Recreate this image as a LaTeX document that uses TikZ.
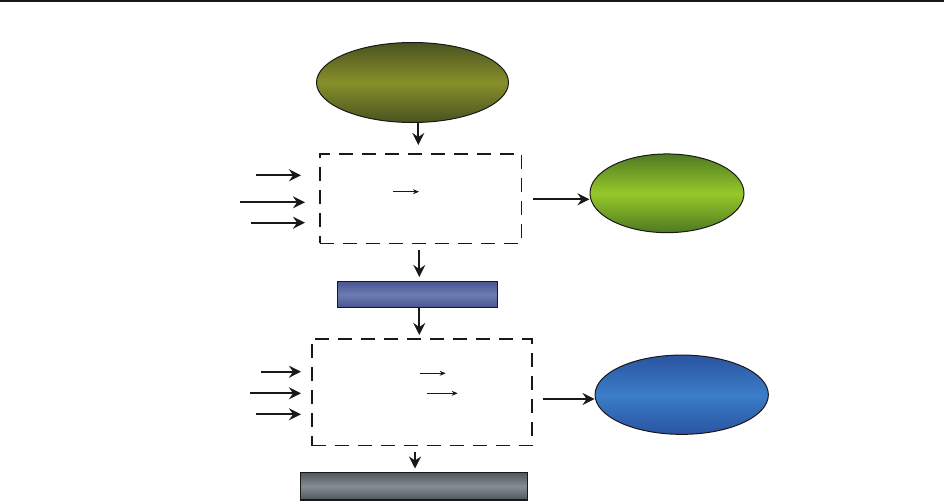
\documentclass[tikz,border=0pt]{standalone}
\usetikzlibrary{shapes.geometric,arrows.meta}
\definecolor{oliveD}{HTML}{4A5320}
\definecolor{oliveM}{HTML}{878F2A}
\definecolor{greenD}{HTML}{4E7A22}
\definecolor{greenM}{HTML}{97C82A}
\definecolor{blueD}{HTML}{2A54A0}
\definecolor{blueM}{HTML}{3B7DC9}
\definecolor{slateD}{HTML}{4A5590}
\definecolor{slateM}{HTML}{6C7DB3}
\definecolor{grayD}{HTML}{4D575C}
\definecolor{grayM}{HTML}{838D92}
\tikzset{
  oval/.style={ellipse, draw=black!90, line width=1pt, inner sep=0pt},
  bar/.style={rectangle, draw=black!90, line width=1.3pt, inner sep=0pt},
  dbox/.style={rectangle, draw=black!90, line width=1.6pt, dash pattern=on 14pt off 9pt, inner sep=0pt},
  bigarrow/.style={-{Stealth[length=12pt,width=12pt,inset=4pt]}, line width=2.2pt, draw=black!90},
  smallarrow/.style={-{Stealth[length=6pt,width=5pt]}, line width=0.8pt, draw=black!90}
}
\begin{document}
\begin{tikzpicture}[x=1pt,y=-1pt]
\useasboundingbox (0,0) rectangle (944,501);
\draw[line width=2pt, black!90] (0,1) -- (944,1);

% top ellipse
\node[oval, minimum width=192pt, minimum height=80pt, top color=oliveD, bottom color=oliveD, middle color=oliveM] (o1) at (412.5,82.5) {};
% dashed box 1
\node[dbox, minimum width=201.7pt, minimum height=89.3pt] (b1) at (420.8,198.7) {};
% green ellipse
\node[oval, minimum width=154pt, minimum height=78.7pt, top color=greenD, bottom color=greenD, middle color=greenM] (o2) at (667,193.3) {};
% blue bar
\node[bar, minimum width=160.4pt, minimum height=25.6pt, top color=slateD, bottom color=slateD, middle color=slateM] (r1) at (417.5,294.5) {};
% dashed box 2
\node[dbox, minimum width=220pt, minimum height=106.7pt] (b2) at (421.7,392.3) {};
% blue ellipse
\node[oval, minimum width=173.3pt, minimum height=79.3pt, top color=blueD, bottom color=blueD, middle color=blueM] (o3) at (681.7,394.7) {};
% gray bar
\node[bar, minimum width=226.6pt, minimum height=27.7pt, top color=grayD, bottom color=grayD, middle color=grayM] (r2) at (414,486.2) {};

% vertical connectors
\coordinate (a1s) at (418.3,123);
\coordinate (a1e) at (418.3,145);
\draw[bigarrow] (a1s) -- (a1e);
\coordinate (a2s) at (419.3,250);
\coordinate (a2e) at (419.3,277);
\draw[bigarrow] (a2s) -- (a2e);
\coordinate (a3s) at (419.3,308);
\coordinate (a3e) at (419.3,335);
\draw[bigarrow] (a3s) -- (a3e);
\coordinate (a4s) at (415,452);
\coordinate (a4e) at (415,468.5);
\draw[bigarrow] (a4s) -- (a4e);

% right connectors
\coordinate (h1) at (533.3,199.3);
\draw[bigarrow] (h1) -- (h1 -| o2.west);
\coordinate (h2) at (542.7,399);
\draw[bigarrow] (h2) -- (h2 -| o3.west);

% left arrows box 1
\coordinate (l1s) at (255.7,175.3); \coordinate (l1e) at (301,175.3);
\coordinate (l2s) at (240,202.3);   \coordinate (l2e) at (305,202.3);
\coordinate (l3s) at (250.7,222.7); \coordinate (l3e) at (305,222.7);
\draw[bigarrow] (l1s) -- (l1e);
\draw[bigarrow] (l2s) -- (l2e);
\draw[bigarrow] (l3s) -- (l3e);
% left arrows box 2
\coordinate (m1s) at (261,371.7);   \coordinate (m1e) at (301,371.7);
\coordinate (m2s) at (250,393.3);   \coordinate (m2e) at (301,393.3);
\coordinate (m3s) at (255.7,414.3); \coordinate (m3e) at (301,414.3);
\draw[bigarrow] (m1s) -- (m1e);
\draw[bigarrow] (m2s) -- (m2e);
\draw[bigarrow] (m3s) -- (m3e);

% small inner arrows
\coordinate (s1s) at (393.3,191.7); \coordinate (s1e) at (419,191.7);
\draw[smallarrow] (s1s) -- (s1e);
\coordinate (s2s) at (420,373.3); \coordinate (s2e) at (445.7,373.3);
\draw[smallarrow] (s2s) -- (s2e);
\coordinate (s3s) at (427.3,393.3); \coordinate (s3e) at (457.7,393.3);
\draw[smallarrow] (s3s) -- (s3e);
\end{tikzpicture}
\end{document}
